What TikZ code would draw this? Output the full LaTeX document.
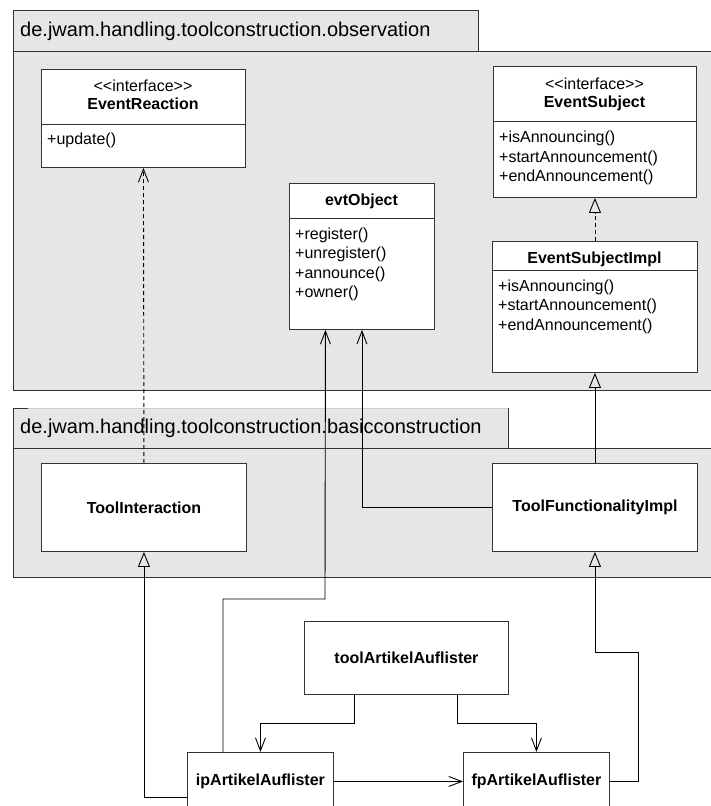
\documentclass[tikz,border=0pt]{standalone}
\usepackage{fontspec}
\setmainfont{Liberation Sans}
\usetikzlibrary{arrows.meta,calc}
\definecolor{pkgfill}{RGB}{230,230,230}
\definecolor{edge}{RGB}{51,51,51}
\definecolor{tabedge}{RGB}{205,205,205}

% stereotype text, with the angle brackets kept apart so they stay as typed
\newcommand{\stereotypeof}[1]{\textless\kern0pt\textless\kern0pt #1\kern0pt\textgreater\kern0pt\textgreater}

\tikzset{
  pkgbody/.style={fill=pkgfill, draw=edge, line width=0.9pt},
  pkglabel/.style={font=\fontsize{20}{24}\selectfont, anchor=west, inner sep=0pt},
  classbox/.style={draw=edge, fill=white, line width=0.9pt, anchor=north west, inner sep=0pt},
  divider/.style={draw=edge, line width=0.9pt},
  cname/.style={font=\fontsize{16}{19.5}\selectfont\bfseries, inner sep=0pt},
  stereo/.style={font=\fontsize{16}{19.5}\selectfont, inner sep=0pt, anchor=base},
  member/.style={font=\fontsize{16}{19.5}\selectfont, inner sep=0pt, anchor=base west},
  link/.style={draw=black, line width=0.9pt},
  usage/.style={link, -{Straight Barb[length=13pt,width=10pt]}},
  inherit/.style={link, -{Triangle[open,length=15pt,width=12pt]}},
  realize/.style={inherit, dash pattern=on 4pt off 3pt},
  dependency/.style={usage, dash pattern=on 4pt off 3pt},
}

\begin{document}
\begin{tikzpicture}[x=1pt,y=-1pt]
\useasboundingbox (0,0) rectangle (711,806);

% package: observation
\draw[pkgbody] (13,10) rectangle (478,51);
\draw[pkgbody] (13,51) rectangle (716,390);
\node[pkglabel] (obsLabel) at (20,31) {de.jwam.handling.toolconstruction.observation};

% package: basicconstruction
\fill[pkgfill] (13,408) rectangle (508,448);
\draw[tabedge, line width=0.9pt] (28,408) -- (508,408);
\draw[edge, line width=0.9pt] (13,448) -- (13,408) -- (28,408);
\draw[edge, line width=0.9pt] (508,408) -- (508,448);
\draw[pkgbody] (13,448) rectangle (716,577);
\node[pkglabel] (basicLabel) at (20,428) {de.jwam.handling.toolconstruction.basicconstruction};

% EventReaction
\node[classbox, minimum width=204pt, minimum height=98pt] (er) at (41,69) {};
\draw[divider] ([yshift=-55pt]er.north west) -- ([yshift=-55pt]er.north east);
\node[stereo] (erStereo) at (143,91) {\stereotypeof{interface}};
\node[cname, anchor=base] (erName) at (143,109.5) {EventReaction};
\node[member] (erM1) at (47,144) {+update()};

% EventSubject
\node[classbox, minimum width=203pt, minimum height=131pt] (es) at (493,66) {};
\draw[divider] ([yshift=-55pt]es.north west) -- ([yshift=-55pt]es.north east);
\node[stereo] (esStereo) at (594.5,89) {\stereotypeof{interface}};
\node[cname, anchor=base] (esName) at (594.5,107) {EventSubject};
\node[member] (esM1) at (499,142.5) {+isAnnouncing()};
\node[member] (esM2) at (499,162) {+startAnnouncement()};
\node[member] (esM3) at (499,181.5) {+endAnnouncement()};

% evtObject
\node[classbox, minimum width=145pt, minimum height=146pt] (evt) at (289,183) {};
\draw[divider] ([yshift=-35pt]evt.north west) -- ([yshift=-35pt]evt.north east);
\node[cname, anchor=base] (evtName) at (361.5,205) {evtObject};
\node[member] (evtM1) at (295,239) {+register()};
\node[member] (evtM2) at (295,258.5) {+unregister()};
\node[member] (evtM3) at (295,278) {+announce()};
\node[member] (evtM4) at (295,297.5) {+owner()};

% EventSubjectImpl
\node[classbox, minimum width=205pt, minimum height=131pt] (esi) at (492,241) {};
\draw[divider] ([yshift=-29pt]esi.north west) -- ([yshift=-29pt]esi.north east);
\node[cname, anchor=base] (esiName) at (594.5,263) {EventSubjectImpl};
\node[member] (esiM1) at (498,291) {+isAnnouncing()};
\node[member] (esiM2) at (498,310.5) {+startAnnouncement()};
\node[member] (esiM3) at (498,330) {+endAnnouncement()};

% ToolInteraction and ToolFunctionalityImpl
\node[classbox, minimum width=205pt, minimum height=88pt] (ti) at (41,463) {};
\node[cname] (tiName) at (ti.center) {ToolInteraction};
\node[classbox, minimum width=205pt, minimum height=88pt] (tf) at (492,463) {};
\node[cname] (tfName) at (tf.center) {ToolFunctionalityImpl};

% tool and its two parts
\node[classbox, minimum width=204pt, minimum height=73pt] (tal) at (304,621) {};
\node[cname] (talName) at (tal.center) {toolArtikelAuflister};
\node[classbox, minimum width=146pt, minimum height=58pt] (ip) at (187,752) {};
\node[cname] (ipName) at (ip.center) {ipArtikelAuflister};
\node[classbox, minimum width=146pt, minimum height=58pt] (fp) at (463,752) {};
\node[cname] (fpName) at (fp.center) {fpArtikelAuflister};

% bend points
\coordinate (ipUp) at (325,599);
\coordinate (fpBend) at (638,652);

% connectors
\draw[dependency] (ti.north) -- (er.south);
\draw[realize] (esi.north) -- (es.south);
\draw[inherit] (tf.north) -- (esi.south);
\draw[usage] (tf.west) -| (evt.south);
\draw[usage] ([xshift=36pt]ip.north west) |- (ipUp) -- ([xshift=-36.5pt]evt.south);
\draw[inherit] ([yshift=-45pt]ip.north west) -| (ti.south);
\draw[inherit] (fp.east) -| (fpBend) -| (tf.south);
\draw[usage] ([xshift=50pt]tal.south west) |- ([yshift=29pt]ip.north) -- (ip.north);
\draw[usage] ([xshift=-51pt]tal.south east) |- ([yshift=29pt]fp.north) -- (fp.north);
\draw[usage] (ip.east) -- (fp.west);
\end{tikzpicture}
\end{document}
